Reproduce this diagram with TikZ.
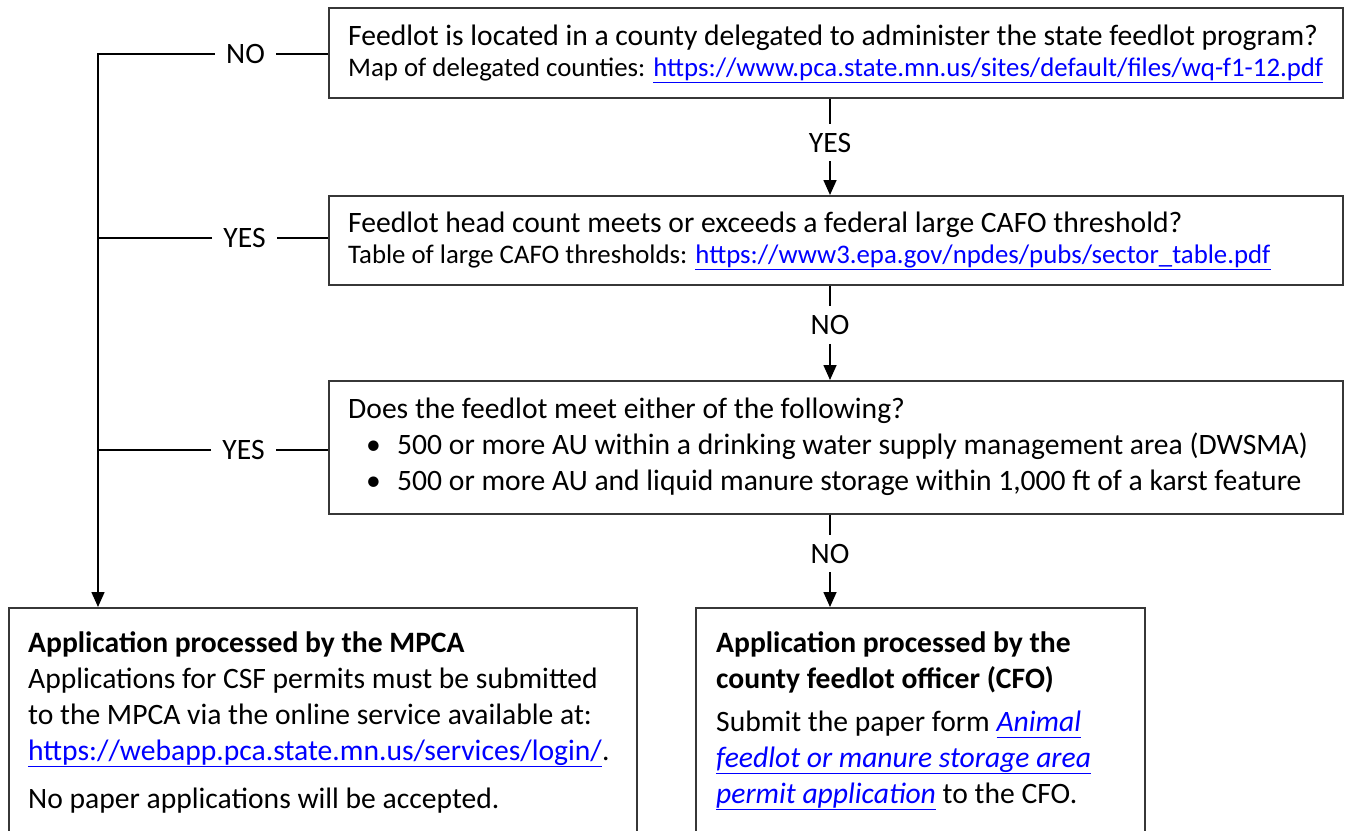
\documentclass[tikz,border=0pt]{standalone}
\usepackage{fontspec}
\setmainfont{Carlito}
\usetikzlibrary{arrows.meta,calc}
\definecolor{linkblue}{RGB}{0,0,255}
\definecolor{boxgray}{RGB}{55,55,55}
\newcommand\lnk[1]{\textcolor{linkblue}{\underline{#1\vphantom{p}}}}
\newcommand\mainsz{\fontsize{29.6}{36}\selectfont}
\newcommand\smallsz{\fontsize{26.8}{32}\selectfont}
\begin{document}
\begin{tikzpicture}[x=1pt,y=-1pt,
  box/.style={draw=boxgray,line width=1.5pt,anchor=north west,inner sep=0pt},
  txt/.style={anchor=base west,inner sep=0pt,font=\mainsz},
  stxt/.style={anchor=base west,inner sep=0pt,font=\smallsz},
  lbl/.style={inner xsep=11pt,inner ysep=9pt,font=\mainsz},
  conn/.style={line width=1.6pt},
  arr/.style={conn,-{Triangle[length=15pt,width=13pt]}}]
\useasboundingbox (0,0) rectangle (1346,830);
\clip (0,0) rectangle (1346,830);
% boxes
\node[box,minimum width=1014pt,minimum height=90pt] (b1) at (328,7) {};
\node[box,minimum width=1014pt,minimum height=89pt] (b2) at (328,195) {};
\node[box,minimum width=1014pt,minimum height=133pt] (b3) at (328,380) {};
\node[box,minimum width=628pt,minimum height=240pt] (mpca) at (8,607) {};
\node[box,minimum width=449pt,minimum height=240pt] (cfo) at (695,607) {};
% box texts
\node[txt] (t1a) at (348,45) {Feedlot is located in a county delegated to administer the state feedlot program?};
\node[stxt] (t1b) at (348,76) {Map of delegated counties: \lnk{https://www.pca.state.mn.us/sites/default/files/wq-f1-12.pdf}};
\node[txt] (t2a) at (348,232) {Feedlot head count meets or exceeds a federal large CAFO threshold?};
\node[stxt] (t2b) at (348,263) {Table of large CAFO thresholds: \lnk{https://www3.epa.gov/npdes/pubs/sector\_table.pdf}};
\node[txt] (t3a) at (348,418) {Does the feedlot meet either of the following?};
\node[txt] (bul1) at (366,454) {•};
\node[txt] (t3b) at (397,454) {500 or more AU within a drinking water supply management area (DWSMA)};
\node[txt] (bul2) at (366,490) {•};
\node[txt] (t3c) at (397,490) {500 or more AU and liquid manure storage within 1,000 ft of a karst feature};
\node[txt] (m1) at (28,652) {\bfseries Application processed by the MPCA};
\node[txt] (m2) at (28,688) {Applications for CSF permits must be submitted};
\node[txt] (m3) at (28,724) {to the MPCA via the online service available at:};
\node[txt] (m4) at (28,760) {\lnk{https://webapp.pca.state.mn.us/services/login/}.};
\node[txt] (m5) at (28,808) {No paper applications will be accepted.};
\node[txt] (c1) at (716,652) {\bfseries Application processed by the};
\node[txt] (c2) at (716,688) {\bfseries county feedlot officer (CFO)};
\node[txt] (c3) at (716,731) {Submit the paper form \lnk{\itshape Animal}};
\node[txt] (c4) at (716,767) {\lnk{\itshape feedlot or manure storage area}};
\node[txt] (c5) at (716,803) {\lnk{\itshape permit application} to the CFO.};
% labels
\node[lbl] (no1) at (245.5,54) {NO};
\node[lbl] (yes2) at (244.5,238) {YES};
\node[lbl] (yes3) at (243.5,450) {YES};
\node[lbl] (yes1) at (830,142.5) {YES};
\node[lbl] (no2) at (830,325) {NO};
\node[lbl] (no3) at (830,553.5) {NO};
% connectors
\coordinate (t) at (98,54);
\draw[conn] (b1.west |- no1) -- (no1.east);
\draw[arr] (no1.west) -- (t) -- (t |- mpca.north);
\draw[conn] (b2.west |- yes2) -- (yes2.east);
\draw[conn] (yes2.west) -- (yes2 -| t);
\draw[conn] (b3.west |- yes3) -- (yes3.east);
\draw[conn] (yes3.west) -- (yes3 -| t);
\draw[conn] (b1.south -| yes1) -- (yes1.north);
\draw[arr] (yes1.south) -- (yes1 |- b2.north);
\draw[conn] (b2.south -| no2) -- (no2.north);
\draw[arr] (no2.south) -- (no2 |- b3.north);
\draw[conn] (b3.south -| no3) -- (no3.north);
\draw[arr] (no3.south) -- (no3 |- cfo.north);
\end{tikzpicture}
\end{document}
